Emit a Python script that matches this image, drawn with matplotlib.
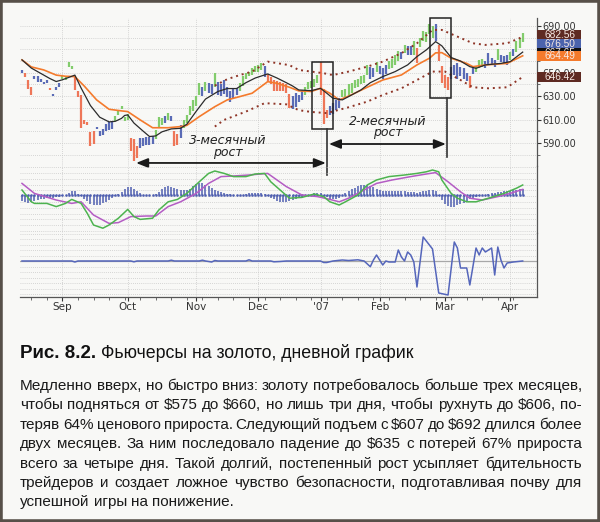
import matplotlib
matplotlib.use('Agg')
import matplotlib.pyplot as plt
import numpy as np
from matplotlib.patches import Rectangle
from matplotlib.transforms import blended_transform_factory

###############################
# data #
###############################

# daily bars, one per trading day (index 0 = mid August 2006)
bar_high = [652, 650, 644, 638, 647, 647, 645, 642, 644, 637,
            632, 638, 641, 647, 646, 659, 656, 646, 634, 631,
            610, 608, 599, 600, 604, 600, 602, 606, 608, 609,
            613, 618, 622, 612, 615, 594, 593, 587, 594, 594,
            595, 595, 596, 601, 612, 611, 613, 616, 613, 600,
            598, 605, 610, 614, 622, 627, 630, 641, 638, 642,
            641, 640, 650, 642, 640, 644, 638, 634, 636, 637,
            641, 647, 650, 651, 654, 656, 657, 658, 656, 649,
            646, 644, 643, 642, 641, 640, 632, 630, 633, 631,
            635, 638, 642, 643, 645, 648, 659, 636, 618, 622,
            624, 627, 628, 635, 636, 640, 641, 644, 645, 647,
            648, 657, 655, 654, 659, 656, 654, 657, 660, 662,
            665, 669, 668, 674, 673, 673, 677, 671, 680, 686,
            685, 692, 690, 692, 674, 656, 648, 646, 655, 657,
            658, 655, 654, 650, 647, 654, 656, 661, 662, 660,
            667, 663, 661, 670, 665, 664, 665, 668, 670, 677,
            680, 684]
bar_low = [650, 646, 636, 631, 645, 642, 642, 640, 641, 635,
           630, 635, 638, 645, 644, 655, 653, 635, 629, 603,
           606, 605, 587, 589, 602, 596, 597, 600, 601, 602,
           609, 614, 619, 609, 610, 583, 575, 577, 586, 587,
           588, 588, 589, 593, 604, 605, 607, 610, 609, 587,
           588, 594, 603, 607, 614, 617, 622, 631, 630, 634,
           633, 632, 638, 631, 630, 632, 629, 625, 628, 631,
           634, 639, 645, 647, 648, 651, 651, 652, 646, 642,
           640, 634, 634, 634, 634, 633, 620, 619, 621, 625,
           627, 631, 636, 637, 638, 641, 631, 606, 611, 614,
           615, 618, 620, 629, 628, 630, 633, 637, 638, 640,
           641, 648, 645, 646, 651, 649, 645, 649, 653, 654,
           657, 660, 662, 667, 665, 665, 665, 658, 672, 677,
           676, 683, 680, 677, 660, 641, 637, 635, 645, 648,
           645, 647, 645, 643, 637, 649, 651, 654, 655, 654,
           657, 657, 655, 661, 659, 658, 657, 661, 664, 668,
           671, 676]
# impulse colour of each bar: g = up, r = down, b = neutral
bar_impulse = list("brrrbbbbbr" "bbbggggrrr" "rrrrbbbbbb" "gggggrrrbb"
                   "bbbgggbgbr" "rbggggggbg" "bbgbbbbbbb" "ggggggggbr"
                   "rrrrrrrbbb" "bgggggrrrb" "bbbggggggg" "ggbbgbbbgg"
                   "ggbgbbgrgg" "gggbrrrrbb" "bbbbrbgggb" "bbbgbbbgbg" "gg")

# fast (black) and slow (orange) moving averages
fast_idx = [0, 3, 7, 9, 11, 13, 16, 17, 19, 22, 25, 28, 30, 32, 33, 34, 36, 39, 41, 43,
            45, 48, 51, 53, 56, 59, 63, 66, 69, 72, 75, 79, 82, 85, 87, 89, 93, 96, 98, 100,
            103, 105, 109, 112, 116, 120, 124, 127, 130, 133, 135, 138, 141, 144, 146, 149,
            154, 157, 161]
fast_val = [661, 654, 648, 645, 642.5, 644, 647, 648, 637, 622, 612, 608, 608.5, 611, 613.5,
            614, 607, 600, 595.5, 596, 599.5, 602, 602.5, 606, 617, 627.5, 634, 636.5, 636.5,
            641.5, 645.5, 649, 645.5, 641.5, 638.7, 635.3, 634.7, 636.7, 632.5, 628.2, 626.8,
            629.6, 635.3, 641.5, 646.7, 651, 656.7, 663.8, 669.5, 676.6, 673, 663, 660, 655.2,
            653.8, 656.7, 658, 659.5, 667.65]
slow_idx = [0, 3, 7, 11, 14, 17, 20, 24, 28, 32, 34, 38, 42, 47, 51, 53, 57, 62, 66, 70,
            74, 79, 82, 86, 89, 93, 96, 99, 102, 105, 111, 116, 122, 127, 131, 133, 135, 138,
            143, 145, 149, 156, 161]
slow_val = [661, 655, 652.4, 648, 647, 646.7, 638.7, 626.8, 618.8, 617.4, 616.8, 609.7, 603,
            603, 604, 605, 612.5, 621, 626.8, 629.6, 632.5, 642.4, 641, 637.6, 634.5, 634,
            636.7, 632.5, 626.8, 630, 637.6, 643.8, 648.1, 656.7, 662.4, 667, 667.2, 662.4,
            658, 655.2, 656.7, 658, 664.49]

# channel (dotted)
upper_idx = [62, 66, 70, 74, 79, 86, 89, 93, 97, 100, 105, 111, 116, 122, 127, 132, 135,
             140, 145, 149, 156, 160, 161]
upper_val = [639, 644.5, 648, 651, 659.5, 656.5, 652.4, 651, 649.6, 648, 651, 655.2, 659.5,
             666.7, 675.2, 686.6, 686.6, 680.9, 675.2, 673.8, 675.2, 679.5, 682.56]
lower_idx = [62, 65, 72, 78, 85, 89, 93, 98, 105, 111, 116, 122, 127, 132, 136, 141, 145,
             150, 156, 161]
lower_val = [604, 609.7, 616.8, 624, 623, 618, 616.5, 615.5, 620.5, 625.3, 631, 636.7,
             643.8, 651, 651, 643.8, 637.6, 636.7, 637.6, 646.42]

# last values shown in the tags on the right
tag_vals = [682.56, 676.50, 667.65, 664.49, 646.42]
tag_cols = ['#5e2a22', '#4b63ad', '#111111', '#f47a2c', '#5e2a22']

# MACD panel
macd_idx = [0, 3, 4, 8, 11, 14, 16, 19, 21, 23, 26, 28, 31, 34, 36, 38, 42, 44, 47, 50,
            53, 57, 60, 62, 65, 68, 72, 75, 78, 80, 83, 86, 90, 94, 97, 99, 102, 104, 108,
            111, 114, 118, 123, 127, 130, 132, 134, 135, 138, 140, 143, 146, 150, 155, 159, 161]
macd_val = [1.25, -1.7, -2.1, -2.1, -2.9, -2.1, -1.1, -2.1, -4.6, -7.5, -8.3, -7.5, -5.8,
            -3.6, -5.4, -6.1, -5.8, -3.75, -1.7, -1.1, 0.4, 3.3, 5.4, 6.0, 5.4, 4.6, 4.6,
            5.25, 5.4, 3.3, 1.25, -0.8, -0.6, 0.25, -0.4, -1.7, -2.5, -1.7, 0, 2.5, 3.75,
            4.6, 5.0, 5.4, 5.8, 6.25, 5.8, 3.75, 0.4, -0.8, -1.7, -1.7, -0.8, 0.4, 1.7, 2.5]
signal_idx = [0, 4, 11, 16, 19, 23, 28, 31, 35, 40, 43, 47, 51, 56, 60, 64, 68, 73, 79, 82,
              85, 90, 95, 99, 102, 105, 110, 114, 119, 125, 130, 133, 137, 141, 144, 148,
              153, 157, 161]
signal_val = [2.9, 0.4, -1.25, -2.1, -1.7, -5.0, -7.1, -6.9, -5.4, -5.25, -5.25, -2.9, -1.7,
              0.4, 2.9, 4.6, 4.75, 5.0, 5.4, 3.75, 2.1, 0, -0.4, -1.1, -1.7, -0.8, 1.25, 2.9,
              3.75, 4.6, 5.25, 5.6, 3.3, 0.8, -0.8, -1.25, -0.4, 0.4, 1.4]
macd_hist = [-1.6, -1.8, -1.9, -1.8, -1.5, -1.2, -1.0, -0.9, -0.8, -0.8,
             -0.7, -0.6, -0.5, -0.3, 0.1, 0.5, 1.1, 0.9, 0.3, -0.3,
             -1.0, -1.6, -2.2, -2.5, -2.6, -2.4, -2.1, -1.7, -1.3, -0.8,
             -0.3, 0.3, 0.8, 1.4, 1.9, 2.0, 1.6, 1.0, 0.4, 0.1,
             0.0, 0.1, 0.1, 0.2, 0.8, 1.4, 1.9, 2.2, 2.1, 1.8,
             1.5, 1.3, 1.2, 1.3, 1.6, 2.2, 2.7, 3.0, 2.9, 2.6,
             2.2, 1.7, 1.2, 0.9, 0.7, 0.5, 0.3, 0.2, 0.1, 0.0,
             0.1, 0.1, 0.2, 0.4, 0.5, 0.6, 0.5, 0.4, 0.2, -0.3,
             -0.7, -1.1, -1.5, -1.7, -1.8, -1.7, -1.5, -1.2, -0.9, -0.6,
             -0.4, -0.2, -0.1, 0.1, 0.4, 0.6, 0.5, -0.2, -0.6, -0.9,
             -1.0, -0.9, -0.7, 0.0, 0.4, 0.9, 1.4, 1.8, 2.2, 2.4,
             2.5, 2.4, 2.2, 1.9, 1.6, 1.3, 1.1, 1.0, 0.9, 0.9,
             0.9, 1.0, 1.0, 0.9, 0.8, 0.7, 0.7, 0.6, 0.8, 1.0,
             1.1, 1.2, 1.2, 1.0, -0.2, -1.2, -2.2, -2.8, -3.0, -2.9,
             -2.6, -2.3, -1.9, -1.5, -1.1, -0.8, -0.5, -0.3, -0.1, 0.1,
             0.3, 0.5, 0.6, 0.7, 0.8, 0.9, 1.0, 1.1, 1.2, 1.3,
             1.4, 1.5]

# bottom panel (force index)
force_idx = [0, 16, 17, 18, 35, 36, 37, 47, 48, 49, 57, 58, 59, 61, 62, 63, 72, 73, 74, 80,
             81, 83, 85, 96, 97, 98, 100, 103, 105, 108, 110, 112, 113, 114, 116, 117, 118,
             120, 121, 122, 123, 124, 125, 126, 127, 129, 132, 134, 137, 139, 140, 141, 143,
             144, 146, 147, 148, 149, 151, 152, 153, 154, 155, 156, 158, 161]
force_val = [0, 0, -1, 0, 0, -0.8, 0, 0, 0.8, 0, 0, 0.8, 0, -1, 0.5, 0, 0, 1.2, 0, 0,
             -0.8, -0.5, 0, 0, -1.5, -1.5, 0, 1, 0.5, 1.2, 0, -5.7, 1, 6, -4, 0, -1,
             -1, 11, 4, 0, 9, 6, -1, -26, 24, 12, -32, -34, 19, 13, -7, -7,
             -24, 13, 6, 13, 9, 13, -14, 14, 1, -7, -2, -1, 0]

month_pos = [13, 34, 56, 76, 96, 115, 136, 157]
month_labels = ['Sep', 'Oct', 'Nov', 'Dec', "'07", 'Feb', 'Mar', 'Apr']
price_ticks = [590, 610, 630, 650, 670, 690]

caption_bold = 'Рис. 8.2.'
caption_rest = 'Фьючерсы на золото, дневной график'
body_lines = [
    'Медленно вверх, но быстро вниз: золоту потребовалось больше трех месяцев,',
    'чтобы подняться от $575 до $660, но лишь три дня, чтобы рухнуть до $606, по-',
    'теряв 64% ценового прироста. Следующий подъем с $607 до $692 длился более',
    'двух месяцев. За ним последовало падение до $635 с потерей 67% прироста',
    'всего за четыре дня. Такой долгий, постепенный рост усыпляет бдительность',
    'трейдеров и создает ложное чувство безопасности, подготавливая почву для',
    'успешной игры на понижение.',
]

#########
# setup #
#########

W, H = 600, 522
BG = '#f8f8f6'
impulse_colors = {'g': '#82cc6c', 'r': '#ee7658', 'b': '#5a6bb6'}
grid_kw = dict(color='#c9c9c9', lw=0.6, ls=(0, (1, 1.5)))

fig = plt.figure(figsize=(W / 100, H / 100), dpi=100, facecolor=BG)


def px_axes(top, bottom):
    # axes rectangle from pixel rows, shared left/right edges
    return fig.add_axes([20 / W, 1 - bottom / H, 517 / W, (bottom - top) / H])


ax1 = px_axes(18, 166)
ax2 = px_axes(166, 233)
ax3 = px_axes(233, 297)

xlim = (-0.64, 165.6)
for ax in (ax1, ax2, ax3):
    ax.set_facecolor('none')
    ax.set_xlim(*xlim)
    for s in ('top', 'left', 'bottom'):
        ax.spines[s].set_visible(False)
    ax.spines['right'].set_color('#555555')
    ax.spines['right'].set_linewidth(0.9)
    ax.set_xticks(month_pos)
    ax.xaxis.grid(True, **grid_kw)
    ax.set_axisbelow(True)
    ax.tick_params(axis='x', length=0, labelbottom=False)

##############
# price panel #
##############
ax1.set_ylim(570.3, 696.8)
ax1.yaxis.tick_right()
ax1.set_yticks(price_ticks)
ax1.set_yticklabels(['%.2f' % p for p in price_ticks])
ax1.set_yticks(np.arange(580, 700, 10), minor=True)
ax1.tick_params(axis='y', which='major', length=3, width=0.8, pad=1, labelsize=7,
                colors='#333333')
ax1.tick_params(axis='y', which='minor', length=2, width=0.6, colors='#555555')
for p in np.arange(580, 700, 10):
    ax1.axhline(p, zorder=0, **grid_kw)

xs = np.arange(len(bar_high))
ax1.vlines(xs, bar_low, bar_high, colors=[impulse_colors[c] for c in bar_impulse],
           lw=1.6, zorder=3)
ax1.plot(slow_idx, slow_val, color='#f47a2c', lw=1.2, zorder=4)
ax1.plot(fast_idx, fast_val, color='#2b2b2b', lw=0.9, zorder=4)
ax1.plot(upper_idx, upper_val, color='#8e3426', lw=1.4, ls=(0, (1, 2)), zorder=4)
ax1.plot(lower_idx, lower_val, color='#8e3426', lw=1.4, ls=(0, (1, 2)), zorder=4)

# value tags at the right edge
tb = blended_transform_factory(ax1.transAxes, ax1.transData)
tag_h = 7.7
prev = None
for k, (v, c) in enumerate(zip(tag_vals, tag_cols)):
    yc = v
    if prev is not None and k < 3:
        yc = min(v, prev - tag_h)
    prev = yc
    ax1.add_patch(Rectangle((1.0, yc - 4.3), 0.085, 8.6, transform=tb, fc=c, ec='none',
                            clip_on=False, zorder=6 + 2 * k))
    ax1.text(1.044, yc, '%.2f' % v, transform=tb, ha='center', va='center', fontsize=7.3,
             color='#f6e9e4', family='Liberation Sans', clip_on=False, zorder=7 + 2 * k)

# annotations: boxes, separators, arrows, handwritten notes
for x0, x1, y0, y1 in [(93.2, 99.9, 601.6, 659.5), (131.2, 137.8, 628.2, 696.6)]:
    ax1.add_patch(Rectangle((x0, y0), x1 - x0, y1 - y0, fill=False, ec='#222222', lw=1.1,
                            clip_on=False, zorder=7))
ax1.plot([98, 98], [601.6, 562.6], color='#333333', lw=1.2, clip_on=False, zorder=7)
ax1.plot([136.7, 136.7], [628.2, 578], color='#333333', lw=1.2, clip_on=False, zorder=7)
arrow = dict(arrowstyle='<|-|>,head_length=0.7,head_width=0.28', color='#1a1a1a', lw=1.3,
             shrinkA=0, shrinkB=0)
ax1.annotate('', xy=(36.7, 572.9), xytext=(97.7, 572.9), arrowprops=arrow,
             annotation_clip=False, zorder=7)
ax1.annotate('', xy=(98.7, 589.1), xytext=(136.3, 589.1), arrowprops=arrow,
             annotation_clip=False, zorder=7)
note_kw = dict(ha='center', va='center', fontsize=9, style='italic', color='#222222',
               family='DejaVu Sans', zorder=8)
ax1.text(66.2, 592, '3-месячный', **note_kw)
ax1.text(66.2, 582, 'рост', **note_kw)
ax1.text(117.7, 608.6, '2-месячный', **note_kw)
ax1.text(117.7, 598.6, 'рост', **note_kw)

##############
# MACD panel #
##############
ax2.set_ylim(-9.5, 7.25)
ax2.set_yticks([])
for g in np.arange(-9, 7, 1.45):
    ax2.axhline(g, zorder=0, **grid_kw)
ax2.vlines(xs, 0, macd_hist, colors='#4f5fb0', lw=1.1, zorder=3)
ax2.plot(xs, np.zeros(len(xs)), ls='none', marker='s', ms=0.8, color='#4f5fb0', zorder=3)
ax2.plot(signal_idx, signal_val, color='#b45cc4', lw=1.1, zorder=4)
ax2.plot(macd_idx, macd_val, color='#4db34f', lw=1.1, zorder=4)

###############
# force panel #
###############
ax3.set_ylim(-36, 28)
ax3.set_yticks([])
for g in np.arange(-33, 28, 5.5):
    ax3.axhline(g, zorder=0, **grid_kw)
ax3.axhline(0, color='#a8a8a8', lw=0.9, zorder=2)
ax3.plot(force_idx, force_val, color='#5566bb', lw=1.1, zorder=4)
ax3.spines['bottom'].set_visible(True)
ax3.spines['bottom'].set_color('#555555')
ax3.spines['bottom'].set_linewidth(0.9)
ax3.set_xticklabels(month_labels)
ax3.set_xticks(np.arange(3, 163, 5), minor=True)
ax3.tick_params(axis='x', which='major', length=3, width=0.8, labelbottom=True,
                labelsize=7.5, pad=0.5, colors='#333333')
ax3.tick_params(axis='x', which='minor', length=2.5, width=0.6, colors='#555555')

###########
# caption #
###########
renderer = fig.canvas.get_renderer()
text_font = 'Liberation Sans'


def fy(y_px):
    return 1 - y_px / H


t = fig.text(20 / W, fy(358), caption_bold, fontsize=13.5, weight='bold', family=text_font,
             color='#111111', parse_math=False)
bw = t.get_window_extent(renderer).width
fig.text((20 + bw + 5) / W, fy(358), caption_rest, fontsize=12.8, family=text_font,
         color='#111111', parse_math=False)


def justified_line(line, y_px, x0, x1, size, last=False):
    words = line.split(' ')
    texts = [fig.text(0, fy(y_px), w, fontsize=size, family=text_font, color='#1a1a1a',
                      parse_math=False) for w in words]
    widths = [tt.get_window_extent(renderer).width for tt in texts]
    if last or len(words) == 1:
        sp = fig.text(0, 0, 'a a', fontsize=size, family=text_font)
        sp2 = fig.text(0, 0, 'aa', fontsize=size, family=text_font)
        gap = sp.get_window_extent(renderer).width - sp2.get_window_extent(renderer).width
        sp.remove()
        sp2.remove()
    else:
        gap = (x1 - x0 - sum(widths)) / (len(words) - 1)
    x = x0
    for tt, w in zip(texts, widths):
        tt.set_x(x / W)
        x += w + gap


for k, line in enumerate(body_lines):
    justified_line(line, 390 + 19.4 * k, 20, 582, 11, last=(k == len(body_lines) - 1))

# page frame
fig.add_artist(Rectangle((0, 0), 1, 1, transform=fig.transFigure, fill=False,
                         ec='#575049', lw=4))

fig.savefig('out.png', dpi=100, facecolor=BG)
